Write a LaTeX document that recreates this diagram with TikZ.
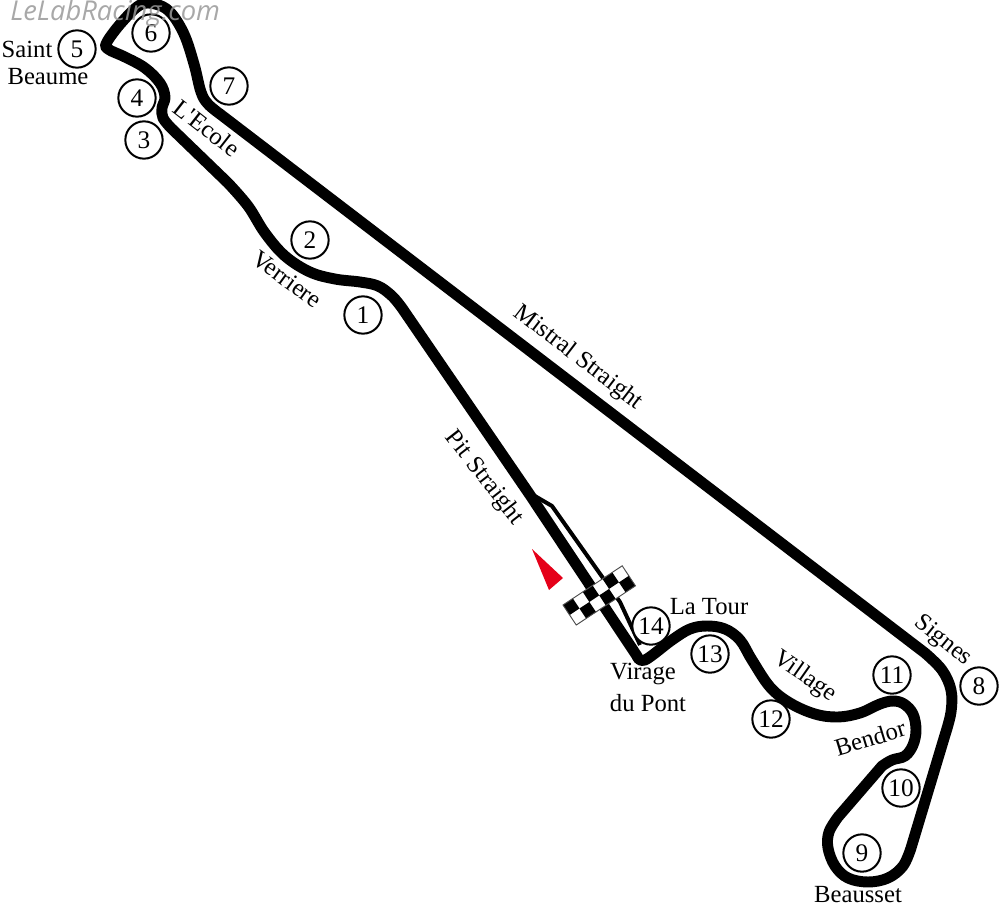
\documentclass[tikz,border=0pt]{standalone}
\usepackage{fontspec}
\setmainfont{Liberation Serif}
\setsansfont{Open Sans}
\newfontfamily\straightfont{Liberation Serif}
\tikzset{
  track/.style={line width=8.2pt, line join=round, line cap=round},
  pitlane/.style={line width=3pt, line join=round},
  turn/.style={circle, draw, fill=white, line width=1.5pt, minimum size=28pt, inner sep=0pt, font=\fontsize{19}{20}\selectfont},
  lbl/.style={inner sep=0pt, font=\fontsize{18.5}{20}\selectfont},
}
\begin{document}
\begin{tikzpicture}[x=.75pt,y=-.75pt]
\useasboundingbox (0,0) rectangle (1000,910);
\draw[pitlane] (528,492) -- (552,506) -- (620,602) -- (640,645);
\draw[track] (530,495) -- (402,308)
  -- plot[smooth, tension=.6] coordinates {(402,308) (392,296) (378,286) (360,282) (335,279) (310,272) (285,256) (265,233) (248,206) (228,183)}
  -- (171,128)
  -- plot[smooth, tension=.6] coordinates {(171,128) (163,118) (162,108) (165,97) (160,83) (145,68) (125,57) (108,49) (107,42) (122,22) (140,5) (155,4) (170,12) (184,34) (194,64) (201,92) (208,104) (220,114)}
  -- (925,653)
  -- plot[smooth, tension=.6] coordinates {(925,653) (942,670) (951,690) (951,712) (945,735)}
  -- (911,848)
  -- plot[smooth, tension=.6] coordinates {(911,848) (903,866) (888,878) (868,882) (848,878) (835,866) (828,848) (829,832) (838,817)}
  -- (882,766)
  -- plot[smooth, tension=.6] coordinates {(882,766) (892,760) (905,756) (913,745) (916,730) (913,714) (904,704) (893,701) (880,704) (860,713) (838,717) (815,714) (790,703) (770,687) (752,660) (740,640) (725,629) (707,626) (690,629) (672,640) (645,660) (637,656)}
  -- (530,495);
\fill[red!90!blue] (532,549) -- (563,578) -- (549,590) -- cycle;
\begin{scope}[shift={(563,605)}, rotate=33.5]
\fill[white] (0,0) rectangle (71,24);
\foreach \i in {0,...,5}{
  \foreach \j in {0,1}{
    \pgfmathparse{int(mod(\i+\j,2))}
    \ifnum\pgfmathresult=0
      \fill[black] (\i*11.83,\j*12) rectangle ({(\i+1)*11.83},{(\j+1)*12});
    \fi
  }
}
\draw[line width=.7pt, black!70] (0,0) rectangle (71,24);
\end{scope}
\node[turn] (t1) at (363,315) {1};
\node[turn] (t2) at (310,240) {2};
\node[turn] (t3) at (144,140) {3};
\node[turn] (t4) at (137,98) {4};
\node[turn] (t5) at (77,49) {5};
\node[turn] (t6) at (151,33) {6};
\node[turn] (t7) at (229,86) {7};
\node[turn] (t8) at (979,686) {8};
\node[turn] (t9) at (862,853) {9};
\node[turn] (t10) at (901,788) {10};
\node[turn] (t11) at (892,675) {11};
\node[turn] (t12) at (771,719) {12};
\node[turn] (t13) at (710,654) {13};
\node[turn] (t14) at (651,626) {14};
\node[lbl] (saint) at (27,49) {Saint};
\node[lbl] (beaume) at (48,77) {Beaume};
\node[lbl, rotate=-38] (ecole) at (207,128) {\straightfont L'Ecole};
\node[lbl, rotate=-36] (verriere) at (287,279) {Verriere};
\node[lbl, rotate=-37.5] (mistral) at (578,358) {Mistral Straight};
\node[lbl, rotate=-52] (pit) at (484,478) {Pit Straight};
\node[lbl] (latour) at (709,607) {La Tour};
\node[lbl] (virage) at (643,674) {Virage};
\node[lbl] (dupont) at (648,703) {du Pont};
\node[lbl, rotate=-35] (village) at (805,677) {Village};
\node[lbl, rotate=17] (bendor) at (870,738) {Bendor};
\node[lbl, rotate=-39] (signes) at (943,641) {Signes};
\node[lbl] (beausset) at (858,895) {Beausset};
\node[inner sep=0pt, anchor=west, text=black!40, opacity=.85, font=\sffamily\itshape\fontsize{20.5}{22}\selectfont] (site) at (10,13) {LeLabRacing.com};
\end{tikzpicture}
\end{document}
